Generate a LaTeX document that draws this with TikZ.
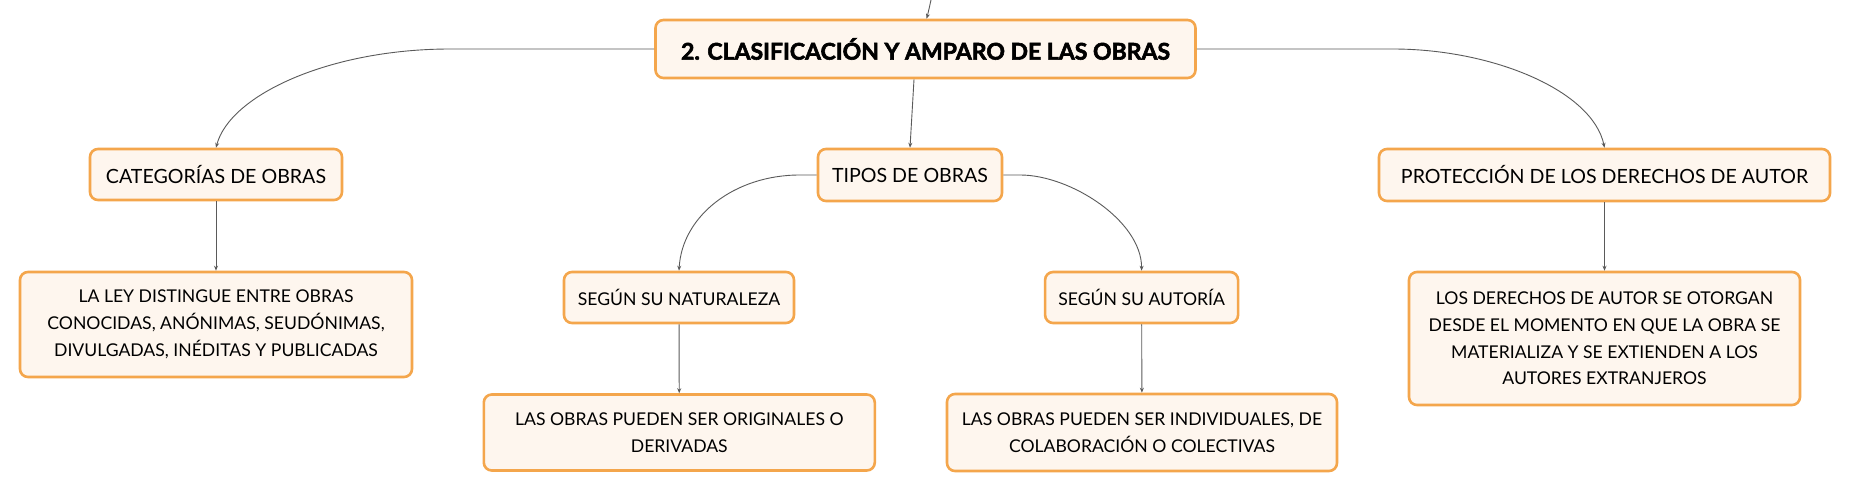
\documentclass[tikz,border=0pt]{standalone}
\usepackage{fontspec}
\setmainfont{Lato}
\newfontfamily\titlefont{Lato}[BoldFeatures={FakeBold=2.5}]
\usetikzlibrary{arrows.meta}
\definecolor{bordc}{HTML}{F4A64C}
\definecolor{fillc}{HTML}{FEF6EE}
\definecolor{connc}{HTML}{5A5A5A}
\begin{document}
\begin{tikzpicture}[x=1pt,y=-1pt,
  box/.style={draw=bordc, fill=fillc, line width=2.6pt, rounded corners=8pt,
    align=center, inner sep=0pt, font=\fontsize{17.6}{26.7}\selectfont},
  topic/.style={box, font=\fontsize{19.6}{26.7}\selectfont},
  conn/.style={draw=connc, line width=0.9pt, -{Stealth[length=5pt,width=4pt]}}]
\useasboundingbox (0,0) rectangle (1851,492);
\fill[white] (0,0) rectangle (1851,492);

\node[box, minimum width=540pt, minimum height=58pt, font=\fontsize{23}{26}\titlefont\bfseries] (main) at (925.5,49) {2. CLASIFICACIÓN Y AMPARO DE LAS OBRAS};
\node[topic, minimum width=252pt, minimum height=51pt] (cat) at (216,174.5) {CATEGORÍAS DE OBRAS};
\node[box, minimum width=392pt, minimum height=105pt] (ley) at (216,324.5) {LA LEY DISTINGUE ENTRE OBRAS\\CONOCIDAS, ANÓNIMAS, SEUDÓNIMAS,\\DIVULGADAS, INÉDITAS Y PUBLICADAS};
\node[topic, minimum width=184pt, minimum height=52pt] (tipos) at (910,175) {TIPOS DE OBRAS};
\node[topic, minimum width=451pt, minimum height=52pt] (prot) at (1604.5,175) {PROTECCIÓN DE LOS DERECHOS DE AUTOR};
\node[box, minimum width=391pt, minimum height=133pt] (der) at (1604.5,338.5) {LOS DERECHOS DE AUTOR SE OTORGAN\\DESDE EL MOMENTO EN QUE LA OBRA SE\\MATERIALIZA Y SE EXTIENDEN A LOS\\AUTORES EXTRANJEROS};
\node[box, minimum width=230pt, minimum height=51pt] (nat) at (679,297.5) {SEGÚN SU NATURALEZA};
\node[box, minimum width=193pt, minimum height=51pt] (aut) at (1141.6,297.5) {SEGÚN SU AUTORÍA};
\node[box, minimum width=391pt, minimum height=76pt] (orig) at (679.3,432.5) {LAS OBRAS PUEDEN SER ORIGINALES O\\DERIVADAS};
\node[box, minimum width=390pt, minimum height=77pt] (indiv) at (1142,432.5) {LAS OBRAS PUEDEN SER INDIVIDUALES, DE\\COLABORACIÓN O COLECTIVAS};

\coordinate (in) at (931,0);
\draw[conn] (in) .. controls +(-1,8) .. ([xshift=1pt]main.north);
\draw[conn] ([xshift=-11.5pt]main.south) -- (tipos.north);
\draw[conn] (main.west) -- ++(-204,0) .. controls +(-120,0) and +(14,-53) .. (cat.north);
\draw[conn] (main.east) -- ++(196,0) .. controls +(100,0) and +(-12,-57) .. (prot.north);
\draw[conn] (tipos.west) -- ++(-17,0) .. controls +(-65,0) and +(3,-55) .. (nat.north);
\draw[conn] (tipos.east) -- ++(17,0) .. controls +(50,0) and +(0,-50) .. (aut.north);
\draw[conn] (cat) -- (ley);
\draw[conn] (prot) -- (der);
\draw[conn] (nat) -- (orig);
\draw[conn] (aut) -- (indiv);
\end{tikzpicture}
\end{document}
